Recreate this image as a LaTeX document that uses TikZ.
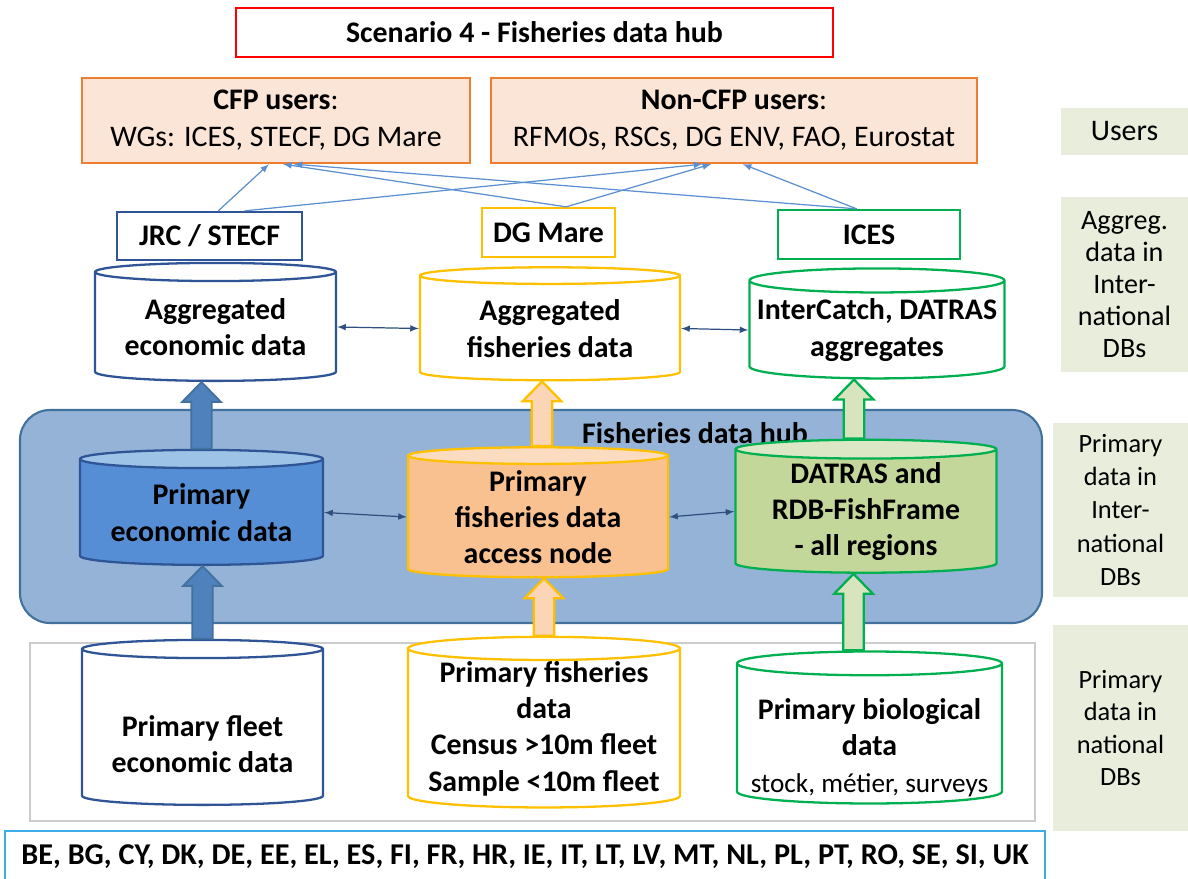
\documentclass[tikz,border=0pt]{standalone}
\usepackage{fontspec}
\setmainfont{Carlito}
\usepackage{tikz}
\usetikzlibrary{shapes.geometric,calc,positioning}
\definecolor{coldb}{HTML}{2F5597}
\definecolor{colgold}{HTML}{FFC000}
\definecolor{colgreen}{HTML}{00B050}
\definecolor{colorange}{HTML}{ED7D31}
\definecolor{colpeach}{HTML}{FBE5D6}
\definecolor{colhub}{HTML}{95B3D7}
\definecolor{colhubln}{HTML}{41719C}
\definecolor{colside}{HTML}{E9EDDC}
\definecolor{colthin}{HTML}{5B8FD0}
\definecolor{colnavy}{HTML}{2F4F7F}
\definecolor{colecobody}{HTML}{558ED5}
\definecolor{colecotop}{HTML}{9DC3E6}
\definecolor{colfishbody}{HTML}{F9C090}
\definecolor{colfishtop}{HTML}{FCDCC0}
\definecolor{colbiobody}{HTML}{C4D79B}
\definecolor{colbiotop}{HTML}{DCE7C6}
\definecolor{colarrblue}{HTML}{4F81BD}
\definecolor{colarrpeach}{HTML}{FBD5B5}
\definecolor{colarrgreen}{HTML}{D7E4BD}
\definecolor{colstates}{HTML}{3DAEE9}
\tikzset{
  tbox/.style={draw, line width=1.3pt, fill=white, align=center,
    font=\bfseries\fontsize{17}{21}\selectfont},
  sidebox/.style={fill=colside, align=center, font=\fontsize{15}{18.5}\selectfont},
  cyltxt/.style={align=center, font=\bfseries\fontsize{17}{20.7}\selectfont},
  cyl/.style={cylinder, shape border rotate=90, aspect=0.1, draw, line width=1.3pt,
    fill=white, inner sep=0pt, cyltxt},
  cyleco/.style={cyl, draw=coldb},
  cylfish/.style={cyl, draw=colgold},
  cylbio/.style={cyl, draw=colgreen},
  edgeuse/.style={colthin, line width=0.7pt, -latex},
  edgelink/.style={colnavy, line width=0.7pt, latex-latex},
  fatblue/.style={fill=colarrblue, draw=colhubln, line width=1pt},
  fatpeach/.style={fill=colarrpeach, draw=colgold, line width=1.3pt},
  fatgreen/.style={fill=colarrgreen, draw=colgreen, line width=1.3pt}
}
% text set lower than the centre of its node
\newcommand\lowtext[2]{\raisebox{-#1}[0pt][0pt]{\begin{tabular}{@{}c@{}}#2\end{tabular}}}
% fat upward arrow from the top of #2 to the bottom of #3, shifted by #4
\newcommand\fatup[4]{%
  \draw[#1] let \p1=($(#2.north)+(#4,0)$), \p2=(#3.south) in
    (\x1-5.8pt,\y1) -- (\x1-5.8pt,\y2-11.3pt) -- (\x1-11pt,\y2-11.3pt) -- (\x1,\y2)
    -- (\x1+11pt,\y2-11.3pt) -- (\x1+5.8pt,\y2-11.3pt) -- (\x1+5.8pt,\y1) -- cycle;}

\begin{document}
\begin{tikzpicture}[x=0.02cm, y=-0.02cm]
\useasboundingbox (0,0) rectangle (1188,879);
% panels
\draw[fill=colhub, draw=colhubln, line width=1.2pt, rounded corners=0.6cm] (20,410) rectangle (1042,623);
\draw[draw=black!20, line width=1.3pt] (30,643) rectangle (1035,821);
\node[font=\bfseries\fontsize{17}{21}\selectfont] (hublbl) at (695,433) {Fisheries data hub};

% title and users
\node[tbox, draw=red, minimum width=11.94cm, minimum height=0.98cm] (title) at (534.5,32.5) {Scenario 4 - Fisheries data hub};
\node[tbox, draw=colorange, fill=colpeach, minimum width=7.76cm, minimum height=1.7cm, font=\fontsize{17}{21}\selectfont] (cfp) at (276,120.5)
  {\textbf{CFP users}:\\WGs: ICES, STECF, DG Mare};
\node[tbox, draw=colorange, fill=colpeach, minimum width=9.72cm, minimum height=1.7cm, font=\fontsize{17}{21}\selectfont] (noncfp) at (734,120.5)
  {\textbf{Non-CFP users}:\\RFMOs, RSCs, DG ENV, FAO, Eurostat};

% organisations
\node[tbox, draw=coldb, minimum width=3.7cm, minimum height=0.96cm] (jrc) at (209.5,236) {JRC / STECF};
\node[tbox, draw=colgold, minimum width=2.66cm, minimum height=0.98cm] (dgmare) at (548.5,232.5) {DG Mare};
\node[tbox, draw=colgreen, minimum width=3.64cm, minimum height=0.98cm] (ices) at (869,234.5) {ICES};

% side labels
\node[sidebox, minimum width=2.54cm, minimum height=0.94cm, font=\fontsize{17}{20}\selectfont] (susers) at (1124.5,131.5) {Users};
\node[sidebox, minimum width=2.54cm, minimum height=3.5cm, font=\fontsize{16}{18.3}\selectfont] (saggr) at (1124.5,284.5) {Aggreg.\\data in\\Inter-\\national\\DBs};
\node[sidebox, minimum width=2.7cm, minimum height=3.48cm, font=\fontsize{15}{19}\selectfont] (sprint) at (1120.5,510) {Primary\\data in\\Inter-\\national\\DBs};
\node[sidebox, minimum width=2.7cm, minimum height=4.12cm] (sprnat) at (1120.5,728) {Primary\\data in\\national\\DBs};

% aggregated DBs
\node[cyleco, minimum width=4.82cm, minimum height=2.36cm] (aggeco) at (215.5,327) {Aggregated\\economic data};
\node[cylfish, minimum width=5.2cm, minimum height=2.26cm] (aggfish) at (550,328.5) {Aggregated\\fisheries data};
\node[cylbio, minimum width=5.1cm, minimum height=2.2cm] (aggbio) at (877,330) {InterCatch, DATRAS\\aggregates};

% hub DBs
\node[cyleco, fill=none, cylinder uses custom fill, cylinder body fill=colecobody, cylinder end fill=colecotop,
  minimum width=4.86cm, minimum height=2.3cm] (hubeco) at (201.5,512.5) {Primary\\economic data};
\node[cylfish, fill=none, cylinder uses custom fill, cylinder body fill=colfishbody, cylinder end fill=colfishtop,
  minimum width=5.2cm, minimum height=2.6cm] (hubfish) at (538,517) {Primary\\fisheries data\\access node};
\node[cylbio, fill=none, cylinder uses custom fill, cylinder body fill=colbiobody, cylinder end fill=colbiotop,
  minimum width=5.22cm, minimum height=2.66cm] (hubbio) at (866,511.5) {DATRAS and\\RDB-FishFrame\\- all regions};

% national DBs
\node[cyleco, minimum width=4.82cm, minimum height=3.3cm] (nateco) at (202.5,727.5)
  {\lowtext{0.55cm}{Primary fleet\\economic data}};
\node[cylfish, minimum width=5.44cm, minimum height=3.14cm] (natfish) at (544,728.5)
  {Primary fisheries\\data\\Census >10m fleet\\Sample <10m fleet};
\node[cylbio, minimum width=5.3cm, minimum height=3.04cm] (natbio) at (869.5,734)
  {\lowtext{0.44cm}{Primary biological\\data\\{\mdseries\fontsize{15.5}{18}\selectfont stock, métier, surveys}}};

\node[tbox, draw=colstates, minimum width=20.8cm, minimum height=1.04cm, font=\bfseries\fontsize{17.2}{21}\selectfont] (states) at (525,857)
  {BE, BG, CY, DK, DE, EE, EL, ES, FI, FR, HR, IE, IT, LT, LV, MT, NL, PL, PT, RO, SE, SI, UK};

% data flow up
\fatup{fatblue}{hubeco}{aggeco}{0}
\fatup{fatblue}{nateco}{hubeco}{0}
\fatup{fatpeach}{hubfish}{aggfish}{4}
\fatup{fatpeach}{natfish}{hubfish}{0}
\fatup{fatgreen}{hubbio}{aggbio}{-12}
\fatup{fatgreen}{natbio}{hubbio}{-16}

% links
\draw[edgelink] (aggeco.east) -- (aggfish.west);
\draw[edgelink] (aggfish.east) -- (aggbio.west);
\draw[edgelink] (hubeco.east) -- (hubfish.west);
\draw[edgelink] (hubfish.east) -- (hubbio.west);

% to users
\draw[edgeuse] ([xshift=5]jrc.north) -- ([xshift=-4]cfp.south);
\draw[edgeuse] ([xshift=20]jrc.north) -- ([xshift=-18]noncfp.south);
\draw[edgeuse] ([xshift=10]dgmare.north) -- ([xshift=4]cfp.south);
\draw[edgeuse] ([xshift=10]dgmare.north) -- ([xshift=-13]noncfp.south);
\draw[edgeuse] ([xshift=-7]ices.north) -- ([xshift=10]cfp.south);
\draw[edgeuse] ([xshift=-7]ices.north) -- ([xshift=5]noncfp.south);
\end{tikzpicture}
\end{document}
